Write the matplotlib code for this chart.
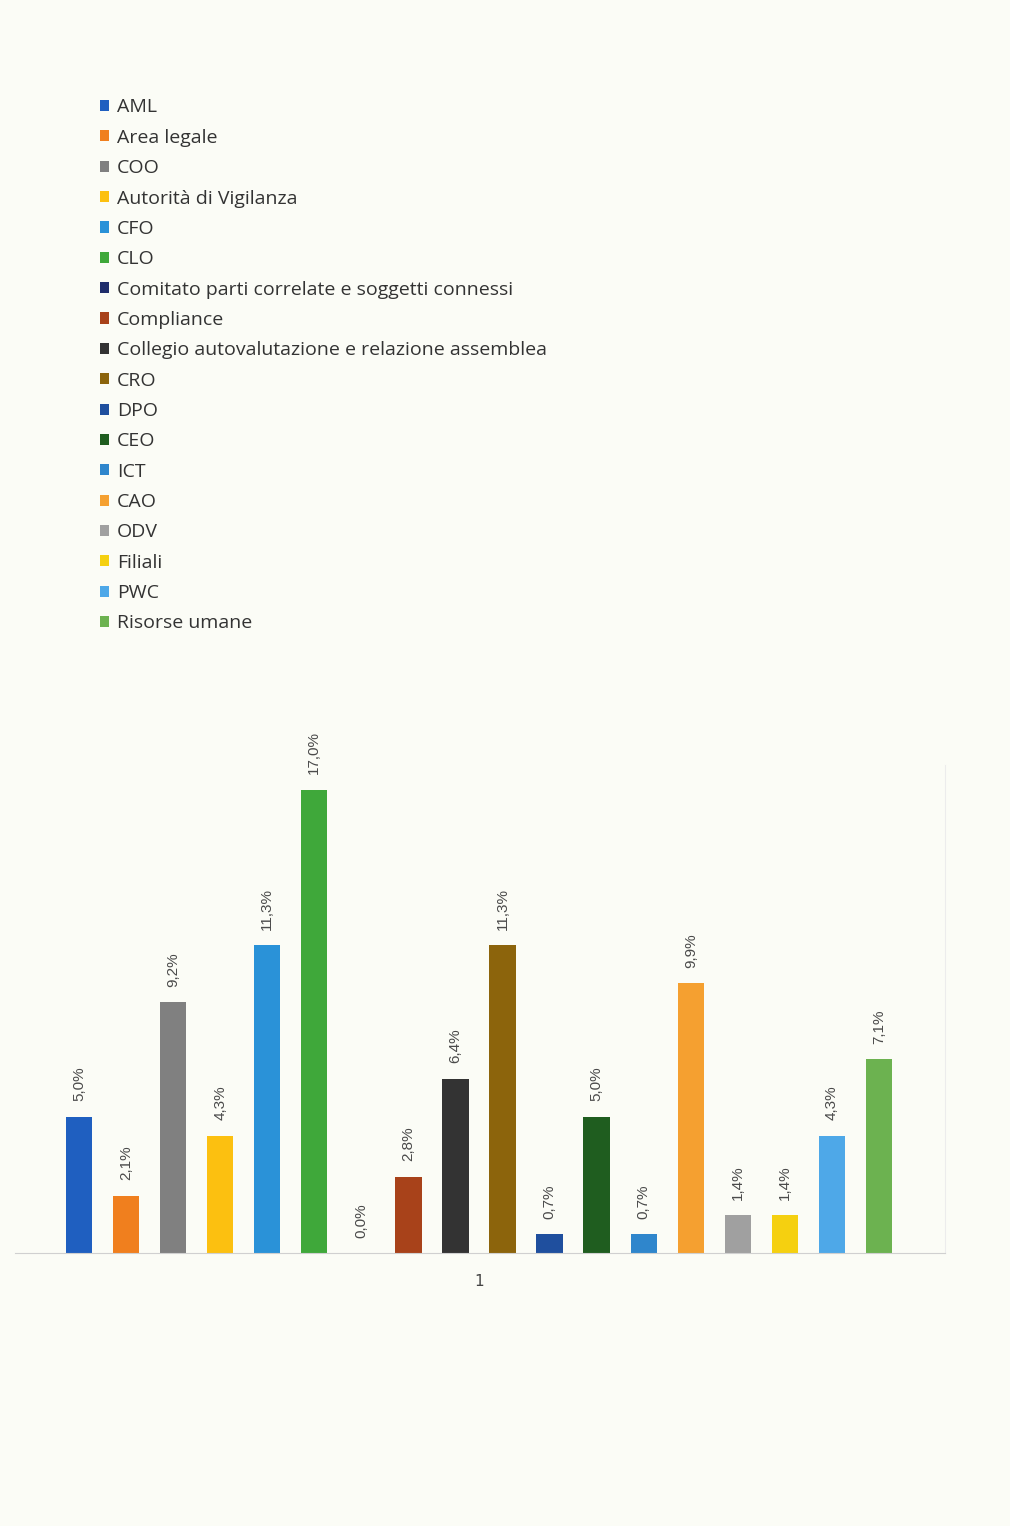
import matplotlib.pyplot as plt
import numpy as np

# funzioni e percentuali
funzioni = ["AML", "Area legale", "COO", "Autorità di Vigilanza", "CFO", "CLO",
            "Comitato parti correlate e soggetti connessi", "Compliance",
            "Collegio autovalutazione e relazione assemblea", "CRO", "DPO", "CEO",
            "ICT", "CAO", "ODV", "Filiali", "PWC", "Risorse umane"]
percentuali = [5.0, 2.1, 9.2, 4.3, 11.3, 17.0, 0.0, 2.8, 6.4, 11.3,
               0.7, 5.0, 0.7, 9.9, 1.4, 1.4, 4.3, 7.1]
colori = ["#1f5fc0", "#f07f1e", "#808080", "#fcc010", "#2a92d8", "#3fa83a",
          "#1f2d6b", "#a8421a", "#333333", "#8c640c", "#1f4f9e", "#1f5d1f",
          "#2f86cc", "#f5a030", "#a0a0a0", "#f5d010", "#4ea8e8", "#6cb250"]
categoria = "1"

sfondo = "#fbfcf6"
fig = plt.figure(figsize=(10.1, 15.26), dpi=100, facecolor=sfondo)
W, H = 1010, 1526
ax = fig.add_axes([15 / W, (H - 1253) / H, 930 / W, (1253 - 765) / H])
ax.set_facecolor(sfondo)

x = np.arange(len(percentuali))
barre = ax.bar(x, percentuali, width=0.56, color=colori, label=funzioni)

for xi, v in zip(x, percentuali):
    ax.annotate(f"{v:.1f}%".replace(".", ","), (xi, v), xytext=(0, 11),
                textcoords="offset points", rotation=90, ha="center", va="bottom",
                fontsize=11, color="#4a4a4a", family="Liberation Sans")

ax.set_xlim(-64 / 47.06, 866 / 47.06)
ax.set_ylim(0, 17.9)
ax.set_xticks([(len(x) - 1) / 2])
ax.set_xticklabels([categoria], fontsize=11, color="#444444")
ax.tick_params(axis="x", length=0, pad=15)
ax.set_yticks([])
for s in ["top", "left"]:
    ax.spines[s].set_visible(False)
ax.spines["bottom"].set_color("#d0d0d0")
ax.spines["right"].set_color("#ececec")

fig.legend(barre, funzioni, loc="upper left", bbox_to_anchor=(82 / W, 1 - 81 / H),
           frameon=False, handlelength=0.5, handleheight=0.5, handletextpad=0.4,
           labelspacing=0.635, prop={"family": "Open Sans", "size": 14},
           labelcolor="#333333")

fig.savefig("out.png", dpi=100, facecolor=sfondo)
